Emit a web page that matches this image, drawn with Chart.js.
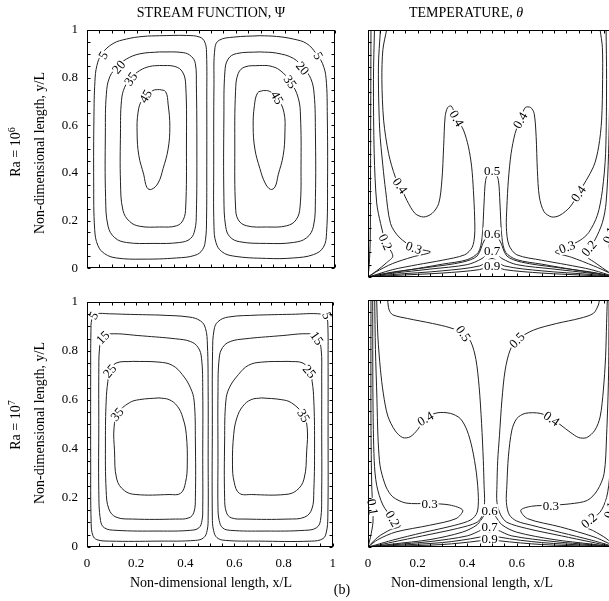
<!DOCTYPE html>
<html lang="en">
<head>
    <meta charset="UTF-8">
    <title>Stream function and temperature contours</title>
    <script src="https://cdn.jsdelivr.net/npm/chart.js"></script>
    <style>
        html, body { margin: 0; padding: 0; background: #fff; overflow: hidden; }
        #fig { position: relative; width: 609px; height: 601px; overflow: hidden;
               font-family: "Liberation Serif", "Times New Roman", serif; color: #000; }
        #fig canvas { position: absolute; }
        .lbl { position: absolute; white-space: nowrap; font-size: 14px; line-height: 16px;
               transform: translate(-50%, -50%); }
        .vert { transform: translate(-50%, -50%) rotate(-90deg); }
        sup { font-size: 10px; }
    </style>
</head>
<body>
<div id="fig">
    <canvas id="psi6" width="345" height="285" style="left:0;top:0"></canvas>
    <canvas id="temp6" width="280" height="285" style="left:352px;top:0"></canvas>
    <canvas id="psi7" width="345" height="316" style="left:0;top:285px"></canvas>
    <canvas id="temp7" width="280" height="316" style="left:352px;top:285px"></canvas>

    <div class="lbl" style="left:211px;top:13px">STREAM FUNCTION, &Psi;</div>
    <div class="lbl" style="left:466px;top:13px">TEMPERATURE, <i>&theta;</i></div>
    <div class="lbl vert" style="left:14px;top:152px">Ra = 10<sup>6</sup></div>
    <div class="lbl vert" style="left:40px;top:153px">Non-dimensional length, y/L</div>
    <div class="lbl vert" style="left:14px;top:425px">Ra = 10<sup>7</sup></div>
    <div class="lbl vert" style="left:40px;top:423px">Non-dimensional length, y/L</div>
    <div class="lbl" style="left:211px;top:583px">Non-dimensional length, x/L</div>
    <div class="lbl" style="left:472px;top:583px">Non-dimensional length, x/L</div>
    <div class="lbl" style="left:342px;top:590px">(b)</div>
</div>
<script>
    // inward tick marks every 0.05 on all four sides
    const minorTicks = [0, 0.05, 0.1, 0.15, 0.2, 0.25, 0.3, 0.35, 0.4, 0.45, 0.5,
                        0.55, 0.6, 0.65, 0.7, 0.75, 0.8, 0.85, 0.9, 0.95, 1];

    // ---- stream function, Ra = 1e6 (closed loops, left and right cells) ----
    const psi6_5L = [[0.293,0.976],[0.401,0.977],[0.455,0.970],[0.475,0.949],[0.482,0.905],[0.483,0.703],[0.483,0.432],[0.482,0.203],[0.478,0.122],[0.466,0.078],[0.435,0.054],[0.361,0.043],[0.226,0.038],[0.118,0.043],[0.071,0.061],[0.044,0.095],[0.031,0.162],[0.027,0.365],[0.028,0.635],[0.032,0.784],[0.040,0.851],[0.060,0.900],[0.105,0.943],[0.159,0.962],[0.226,0.973]];
    const psi6_20L = [[0.293,0.908],[0.388,0.905],[0.421,0.889],[0.437,0.858],[0.441,0.770],[0.443,0.500],[0.441,0.230],[0.435,0.162],[0.417,0.124],[0.374,0.108],[0.266,0.104],[0.159,0.108],[0.112,0.128],[0.085,0.176],[0.075,0.297],[0.074,0.568],[0.078,0.730],[0.092,0.804],[0.125,0.848],[0.159,0.878],[0.213,0.900]];
    const psi6_35L = [[0.293,0.851],[0.354,0.847],[0.385,0.824],[0.398,0.770],[0.401,0.500],[0.398,0.257],[0.388,0.203],[0.361,0.178],[0.293,0.173],[0.213,0.176],[0.172,0.196],[0.145,0.243],[0.135,0.365],[0.135,0.568],[0.139,0.703],[0.152,0.760],[0.179,0.800],[0.213,0.830],[0.253,0.847]];
    const psi6_45L = [[0.293,0.750],[0.317,0.741],[0.327,0.689],[0.334,0.595],[0.327,0.500],[0.307,0.419],[0.287,0.358],[0.260,0.331],[0.242,0.338],[0.229,0.392],[0.209,0.473],[0.202,0.568],[0.206,0.655],[0.222,0.705],[0.266,0.746]];
    const psi6_5R = [[0.697,0.976],[0.590,0.970],[0.533,0.957],[0.516,0.926],[0.512,0.770],[0.511,0.432],[0.512,0.176],[0.520,0.108],[0.543,0.070],[0.590,0.051],[0.724,0.041],[0.832,0.043],[0.913,0.057],[0.953,0.088],[0.966,0.149],[0.970,0.365],[0.969,0.635],[0.964,0.797],[0.950,0.858],[0.925,0.900],[0.886,0.943],[0.832,0.962],[0.764,0.973]];
    const psi6_20R = [[0.697,0.908],[0.603,0.901],[0.569,0.878],[0.556,0.824],[0.552,0.635],[0.552,0.297],[0.559,0.176],[0.576,0.132],[0.616,0.111],[0.724,0.104],[0.832,0.108],[0.886,0.128],[0.913,0.176],[0.921,0.297],[0.921,0.568],[0.916,0.730],[0.902,0.797],[0.872,0.840],[0.832,0.881],[0.764,0.903]];
    const psi6_35R = [[0.697,0.851],[0.637,0.845],[0.610,0.818],[0.599,0.743],[0.596,0.500],[0.599,0.257],[0.610,0.203],[0.644,0.178],[0.724,0.173],[0.805,0.178],[0.843,0.203],[0.859,0.257],[0.863,0.432],[0.861,0.635],[0.852,0.714],[0.822,0.780],[0.778,0.831],[0.737,0.849]];
    const psi6_45R = [[0.711,0.746],[0.688,0.736],[0.675,0.682],[0.670,0.595],[0.677,0.500],[0.697,0.419],[0.718,0.358],[0.740,0.331],[0.758,0.341],[0.771,0.392],[0.791,0.473],[0.798,0.568],[0.794,0.655],[0.767,0.716],[0.735,0.743]];
    const psi6_labels = [[0.065,0.894,'5',-60],[0.127,0.845,'20',-50],[0.176,0.795,'35',-55],[0.236,0.722,'45',-60],
                         [0.933,0.892,'5',60],[0.870,0.840,'20',50],[0.820,0.783,'35',55],[0.767,0.716,'45',60]];

    // ---- stream function, Ra = 1e7 ----
    const psi7_5L = [[0.293,0.946],[0.415,0.938],[0.462,0.922],[0.482,0.892],[0.490,0.824],[0.493,0.635],[0.493,0.365],[0.493,0.122],[0.489,0.068],[0.475,0.038],[0.441,0.027],[0.293,0.024],[0.092,0.024],[0.040,0.030],[0.024,0.047],[0.017,0.095],[0.015,0.365],[0.015,0.703],[0.016,0.878],[0.020,0.930],[0.035,0.950],[0.092,0.951],[0.159,0.949]];
    const psi7_15L = [[0.226,0.861],[0.361,0.849],[0.421,0.838],[0.452,0.814],[0.466,0.770],[0.471,0.635],[0.471,0.365],[0.471,0.162],[0.468,0.108],[0.455,0.078],[0.421,0.068],[0.293,0.065],[0.118,0.068],[0.071,0.078],[0.055,0.108],[0.048,0.230],[0.048,0.500],[0.048,0.703],[0.051,0.811],[0.062,0.852],[0.092,0.869]];
    const psi7_25L = [[0.186,0.757],[0.293,0.754],[0.347,0.741],[0.388,0.703],[0.421,0.649],[0.436,0.595],[0.441,0.432],[0.441,0.203],[0.435,0.142],[0.415,0.119],[0.361,0.114],[0.186,0.114],[0.118,0.122],[0.089,0.155],[0.078,0.230],[0.075,0.432],[0.078,0.595],[0.085,0.676],[0.095,0.718],[0.118,0.750]];
    const psi7_35L = [[0.293,0.608],[0.334,0.601],[0.368,0.574],[0.390,0.527],[0.404,0.459],[0.408,0.338],[0.401,0.264],[0.381,0.219],[0.334,0.214],[0.199,0.214],[0.152,0.230],[0.121,0.277],[0.112,0.392],[0.110,0.486],[0.125,0.545],[0.172,0.588],[0.213,0.601]];
    const psi7_5R = [[0.697,0.946],[0.576,0.938],[0.533,0.919],[0.517,0.885],[0.511,0.797],[0.510,0.500],[0.510,0.122],[0.515,0.068],[0.529,0.038],[0.563,0.027],[0.697,0.024],[0.913,0.024],[0.960,0.034],[0.974,0.061],[0.980,0.122],[0.981,0.500],[0.981,0.770],[0.980,0.905],[0.975,0.935],[0.955,0.950],[0.832,0.949]];
    const psi7_15R = [[0.778,0.861],[0.643,0.849],[0.583,0.838],[0.552,0.814],[0.538,0.770],[0.533,0.635],[0.533,0.365],[0.533,0.162],[0.538,0.108],[0.552,0.078],[0.583,0.068],[0.724,0.065],[0.886,0.068],[0.933,0.078],[0.950,0.108],[0.955,0.230],[0.955,0.500],[0.955,0.703],[0.953,0.804],[0.940,0.850],[0.913,0.869]];
    const psi7_25R = [[0.818,0.757],[0.711,0.754],[0.657,0.741],[0.616,0.703],[0.579,0.649],[0.565,0.595],[0.560,0.432],[0.560,0.203],[0.567,0.142],[0.587,0.119],[0.643,0.114],[0.818,0.114],[0.886,0.122],[0.915,0.155],[0.923,0.230],[0.926,0.432],[0.923,0.595],[0.916,0.676],[0.905,0.715],[0.879,0.750]];
    const psi7_35R = [[0.711,0.608],[0.668,0.601],[0.634,0.574],[0.610,0.527],[0.597,0.459],[0.592,0.338],[0.599,0.264],[0.620,0.219],[0.670,0.214],[0.805,0.214],[0.852,0.230],[0.883,0.277],[0.894,0.392],[0.896,0.486],[0.880,0.540],[0.832,0.588],[0.791,0.601]];
    const psi7_labels = [[0.026,0.944,'5',-60],[0.064,0.855,'15',-45],[0.092,0.718,'25',-50],[0.122,0.542,'35',-50],
                         [0.978,0.944,'5',70],[0.936,0.852,'15',55],[0.906,0.716,'25',50],[0.882,0.536,'35',60]];

    // ---- temperature, Ra = 1e6 (open lines ending in the bottom corners) ----
    const temp6_01L = [[0.012,1],[0.011,0.7],[0.010,0.35],[0.009,0.15],[0.005,0.05],[0,0]];
    const temp6_02L = [[0.026,1],[0.022,0.8],[0.025,0.5],[0.035,0.3],[0.051,0.216],[0.071,0.142],[0.100,0.085],[0.075,0.058],[0.035,0.025],[0,0]];
    const temp6_03L = [[0.050,1],[0.042,0.85],[0.047,0.6],[0.060,0.45],[0.071,0.351],[0.091,0.216],[0.125,0.162],[0.185,0.119],[0.252,0.101],[0.179,0.081],[0.098,0.054],[0.031,0.020],[0,0]];
    const temp6_04L = [[0.075,1],[0.060,0.92],[0.056,0.8],[0.063,0.635],[0.083,0.5],[0.110,0.405],[0.130,0.37],[0.157,0.31],[0.190,0.257],[0.224,0.243],[0.258,0.257],[0.285,0.297],[0.298,0.392],[0.305,0.527],[0.311,0.649],[0.321,0.686],[0.336,0.692],[0.358,0.642],[0.385,0.595],[0.405,0.527],[0.418,0.446],[0.425,0.35],[0.430,0.243],[0.430,0.17],[0.420,0.12],[0.390,0.09],[0.300,0.068],[0.200,0.05],[0.100,0.03],[0.040,0.012],[0,0]];
    const temp6_05 = [[0,0],[0.05,0.01],[0.15,0.026],[0.30,0.052],[0.40,0.07],[0.445,0.1],[0.46,0.16],[0.468,0.3],[0.474,0.39],[0.487,0.425],[0.50,0.432],[0.513,0.425],[0.526,0.39],[0.532,0.3],[0.54,0.16],[0.555,0.1],[0.60,0.07],[0.70,0.052],[0.85,0.026],[0.95,0.01],[1,0]];
    const temp6_06 = [[0,0],[0.1,0.02],[0.25,0.04],[0.38,0.06],[0.44,0.085],[0.47,0.15],[0.5,0.176],[0.53,0.15],[0.56,0.085],[0.62,0.06],[0.75,0.04],[0.9,0.02],[1,0]];
    const temp6_07 = [[0,0],[0.1,0.015],[0.25,0.032],[0.4,0.05],[0.46,0.075],[0.5,0.108],[0.54,0.075],[0.6,0.05],[0.75,0.032],[0.9,0.015],[1,0]];
    const temp6_08 = [[0,0],[0.1,0.01],[0.3,0.025],[0.45,0.045],[0.5,0.075],[0.55,0.045],[0.7,0.025],[0.9,0.01],[1,0]];
    const temp6_09 = [[0,0],[0.1,0.006],[0.3,0.016],[0.45,0.03],[0.5,0.047],[0.55,0.03],[0.7,0.016],[0.9,0.006],[1,0]];
    const temp6_04R = [[0.936,1],[0.945,0.93],[0.946,0.8],[0.942,0.635],[0.930,0.527],[0.909,0.446],[0.848,0.338],[0.815,0.284],[0.774,0.25],[0.741,0.243],[0.710,0.264],[0.691,0.324],[0.683,0.432],[0.678,0.568],[0.670,0.662],[0.656,0.686],[0.634,0.686],[0.613,0.635],[0.593,0.581],[0.577,0.5],[0.566,0.392],[0.560,0.284],[0.558,0.2],[0.568,0.13],[0.600,0.09],[0.700,0.068],[0.800,0.05],[0.900,0.03],[0.960,0.012],[1,0]];
    const temp6_03R = [[0.960,1],[0.962,0.8],[0.958,0.5],[0.945,0.35],[0.925,0.25],[0.890,0.18],[0.856,0.149],[0.802,0.122],[0.755,0.101],[0.820,0.08],[0.910,0.045],[0.970,0.018],[1,0]];
    const temp6_02R = [[0.974,1],[0.975,0.8],[0.970,0.5],[0.960,0.3],[0.945,0.22],[0.915,0.15],[0.890,0.117],[0.875,0.09],[0.920,0.055],[0.970,0.02],[1,0]];
    const temp6_01R = [[0.988,1],[0.987,0.6],[0.982,0.3],[0.972,0.17],[0.975,0.1],[0.990,0.03],[1,0]];
    const temp6_labels = [[0.130,0.37,'0.4',55],[0.358,0.642,'0.4',60],[0.613,0.635,'0.4',-60],[0.848,0.338,'0.4',-55],
                          [0.5,0.432,'0.5',0],[0.5,0.176,'0.6',0],[0.5,0.108,'0.7',0],[0.5,0.047,'0.9',0],
                          [0.071,0.142,'0.2',65],[0.185,0.119,'0.3',20],[0.802,0.122,'0.3',-20],[0.890,0.117,'0.2',-50],[0.972,0.17,'0.1',-70]];

    // ---- temperature, Ra = 1e7 ----
    const temp7_01L = [[0.012,1],[0.012,0.5],[0.015,0.25],[0.019,0.162],[0.020,0.1],[0.010,0.04],[0,0]];
    const temp7_02L = [[0.019,1],[0.020,0.6],[0.025,0.35],[0.035,0.25],[0.060,0.17],[0.100,0.115],[0.130,0.085],[0.090,0.07],[0.040,0.04],[0,0]];
    const temp7_03L = [[0.027,1],[0.030,0.8],[0.036,0.6],[0.040,0.45],[0.046,0.351],[0.052,0.311],[0.073,0.243],[0.100,0.203],[0.153,0.178],[0.248,0.176],[0.330,0.17],[0.382,0.149],[0.355,0.115],[0.248,0.088],[0.113,0.061],[0.040,0.03],[0,0]];
    const temp7_04L = [[0.035,1],[0.040,0.85],[0.050,0.72],[0.062,0.62],[0.080,0.53],[0.110,0.47],[0.140,0.443],[0.170,0.446],[0.200,0.475],[0.231,0.52],[0.278,0.543],[0.332,0.541],[0.372,0.52],[0.399,0.473],[0.420,0.4],[0.437,0.3],[0.445,0.2],[0.440,0.14],[0.415,0.11],[0.350,0.088],[0.220,0.058],[0.100,0.028],[0.030,0.008],[0,0]];
    const temp7_05L = [[0.079,1],[0.085,0.96],[0.100,0.94],[0.160,0.925],[0.260,0.905],[0.330,0.888],[0.385,0.865],[0.415,0.83],[0.435,0.76],[0.448,0.65],[0.458,0.5],[0.465,0.35],[0.468,0.25],[0.470,0.18],[0.462,0.13],[0.440,0.1],[0.360,0.075],[0.220,0.045],[0.100,0.02],[0.030,0.005],[0,0]];
    const temp7_05R = [[0.933,1],[0.929,0.98],[0.909,0.946],[0.855,0.926],[0.761,0.905],[0.667,0.878],[0.600,0.838],[0.573,0.797],[0.553,0.716],[0.540,0.595],[0.530,0.45],[0.523,0.35],[0.520,0.25],[0.520,0.18],[0.535,0.13],[0.560,0.1],[0.640,0.075],[0.780,0.045],[0.900,0.02],[0.970,0.005],[1,0]];
    const temp7_04R = [[0.965,1],[0.962,0.905],[0.958,0.77],[0.949,0.635],[0.936,0.527],[0.915,0.473],[0.882,0.443],[0.850,0.443],[0.815,0.465],[0.741,0.52],[0.694,0.541],[0.634,0.541],[0.600,0.52],[0.580,0.473],[0.566,0.365],[0.560,0.25],[0.558,0.18],[0.570,0.13],[0.600,0.105],[0.660,0.088],[0.780,0.058],[0.900,0.028],[0.970,0.008],[1,0]];
    const temp7_03R = [[0.972,1],[0.970,0.7],[0.962,0.45],[0.952,0.297],[0.925,0.23],[0.885,0.189],[0.817,0.175],[0.737,0.169],[0.660,0.165],[0.616,0.149],[0.643,0.115],[0.777,0.081],[0.911,0.041],[0.970,0.015],[1,0]];
    const temp7_02R = [[0.981,1],[0.980,0.6],[0.975,0.3],[0.962,0.2],[0.935,0.14],[0.891,0.108],[0.870,0.085],[0.910,0.065],[0.960,0.035],[1,0]];
    const temp7_01R = [[0.988,1],[0.988,0.5],[0.985,0.25],[0.975,0.15],[0.980,0.08],[0.992,0.03],[1,0]];
    const temp7_06 = [[0,0],[0.1,0.012],[0.25,0.03],[0.38,0.06],[0.44,0.09],[0.47,0.13],[0.49,0.149],[0.51,0.13],[0.54,0.09],[0.6,0.06],[0.75,0.03],[0.9,0.012],[1,0]];
    const temp7_07 = [[0,0],[0.1,0.009],[0.25,0.022],[0.4,0.045],[0.46,0.07],[0.49,0.083],[0.52,0.07],[0.58,0.045],[0.75,0.022],[0.9,0.009],[1,0]];
    const temp7_08 = [[0,0],[0.1,0.006],[0.3,0.018],[0.45,0.04],[0.49,0.057],[0.53,0.04],[0.7,0.018],[0.9,0.006],[1,0]];
    const temp7_09 = [[0,0],[0.1,0.003],[0.3,0.01],[0.45,0.025],[0.49,0.034],[0.53,0.025],[0.7,0.01],[0.9,0.003],[1,0]];
    const temp7_labels = [[0.385,0.865,'0.5',55],[0.600,0.838,'0.5',-45],[0.231,0.52,'0.4',-30],[0.741,0.52,'0.4',35],
                          [0.248,0.176,'0.3',0],[0.737,0.169,'0.3',0],[0.100,0.115,'0.2',60],[0.019,0.162,'0.1',80],
                          [0.891,0.108,'0.2',-40],[0.975,0.15,'0.1',-75],
                          [0.49,0.149,'0.6',0],[0.49,0.083,'0.7',0],[0.49,0.034,'0.9',0]];

    const serif = 'Liberation Serif';

    // contour value labels, drawn over a white patch that breaks the line
    const contourLabels = {
        id: 'contourLabels',
        afterDatasetsDraw(chart, args, opts) {
            const {ctx, scales: {x, y}} = chart;
            ctx.save();
            ctx.font = '13px "' + serif + '"';
            ctx.textAlign = 'center';
            ctx.textBaseline = 'middle';
            for (const [vx, vy, text, deg] of opts.items) {
                const w = ctx.measureText(text).width;
                ctx.save();
                ctx.translate(x.getPixelForValue(vx), y.getPixelForValue(vy));
                ctx.rotate(deg * Math.PI / 180);
                ctx.fillStyle = '#fff';
                ctx.fillRect(-w / 2 - 1, -6, w + 2, 12);
                ctx.fillStyle = '#000';
                ctx.fillText(text, 0, 1);
                ctx.restore();
            }
            ctx.restore();
        }
    };

    // box around the plot area with small inward ticks
    const frame = {
        id: 'frame',
        afterDraw(chart) {
            const {ctx, chartArea: a, scales: {x, y}} = chart;
            const L = Math.round(a.left) + 0.5, R = Math.round(a.right) - 0.5;
            const T = Math.round(a.top) + 0.5, B = Math.round(a.bottom) - 0.5;
            ctx.save();
            ctx.strokeStyle = '#000';
            ctx.lineWidth = 1;
            ctx.strokeRect(L, T, R - L, B - T);
            ctx.beginPath();
            for (const v of minorTicks) {
                const px = Math.round(x.getPixelForValue(v)) + 0.5;
                const py = Math.round(y.getPixelForValue(v)) + 0.5;
                ctx.moveTo(px, B); ctx.lineTo(px, B - 3);
                ctx.moveTo(px, T); ctx.lineTo(px, T + 3);
                ctx.moveTo(L, py); ctx.lineTo(L + 3, py);
                ctx.moveTo(R, py); ctx.lineTo(R - 3, py);
            }
            ctx.stroke();
            ctx.restore();
        }
    };

    // 0, 0.2, ... 1 without trailing zeros
    const tickText = v => String(Number(v.toFixed(1)));

    function contourPanel(id, lines, labels, o) {
        const tickFont = {family: serif, size: 13};
        return new Chart(document.getElementById(id), {
            type: 'scatter',
            data: {
                datasets: lines.map(pts => ({
                    data: (o.closed ? pts.concat([pts[0]]) : pts).map(p => ({x: p[0], y: p[1]})),
                    showLine: true,
                    borderColor: '#222',
                    borderWidth: 1,
                    pointRadius: 0,
                    tension: o.tension
                }))
            },
            options: {
                responsive: false,
                animation: false,
                events: [],
                layout: {padding: o.padding},
                plugins: {
                    legend: {display: false},
                    tooltip: {enabled: false},
                    contourLabels: {items: labels}
                },
                scales: {
                    x: {
                        type: 'linear', min: 0, max: 1,
                        grid: {display: false, drawTicks: false},
                        border: {display: false},
                        ticks: {display: o.xTicks, stepSize: 0.2, padding: 9, color: '#000', font: tickFont,
                                maxRotation: 0, callback: tickText},
                        afterFit: s => { s.height = o.xHeight; }
                    },
                    y: {
                        type: 'linear', min: 0, max: 1,
                        grid: {display: false, drawTicks: false},
                        border: {display: false},
                        ticks: {display: o.yTicks, stepSize: 0.2, padding: 9, color: '#000', font: tickFont,
                                callback: tickText},
                        afterFit: s => { s.width = o.yWidth; }
                    }
                }
            },
            plugins: [contourLabels, frame]
        });
    }

    contourPanel('psi6',
        [psi6_5L, psi6_20L, psi6_35L, psi6_45L, psi6_5R, psi6_20R, psi6_35R, psi6_45R],
        psi6_labels,
        {closed: true, tension: 0.4, xTicks: false, yTicks: true, xHeight: 0, yWidth: 87,
         padding: {top: 30, right: 10, bottom: 8, left: 0}});

    contourPanel('psi7',
        [psi7_5L, psi7_15L, psi7_25L, psi7_35L, psi7_5R, psi7_15R, psi7_25R, psi7_35R],
        psi7_labels,
        {closed: true, tension: 0.4, xTicks: true, yTicks: true, xHeight: 54, yWidth: 87,
         padding: {top: 15, right: 10, bottom: 0, left: 0}});

    contourPanel('temp6',
        [temp6_01L, temp6_02L, temp6_03L, temp6_04L, temp6_05, temp6_06, temp6_07, temp6_08, temp6_09,
         temp6_04R, temp6_03R, temp6_02R, temp6_01R],
        temp6_labels,
        {closed: false, tension: 0.3, xTicks: false, yTicks: false, xHeight: 0, yWidth: 16,
         padding: {top: 30, right: 16, bottom: 8, left: 0}});

    contourPanel('temp7',
        [temp7_01L, temp7_02L, temp7_03L, temp7_04L, temp7_05L, temp7_05R, temp7_04R, temp7_03R, temp7_02R, temp7_01R,
         temp7_06, temp7_07, temp7_08, temp7_09],
        temp7_labels,
        {closed: false, tension: 0.3, xTicks: true, yTicks: false, xHeight: 54, yWidth: 16,
         padding: {top: 15, right: 16, bottom: 0, left: 0}});
</script>
</body>
</html>
